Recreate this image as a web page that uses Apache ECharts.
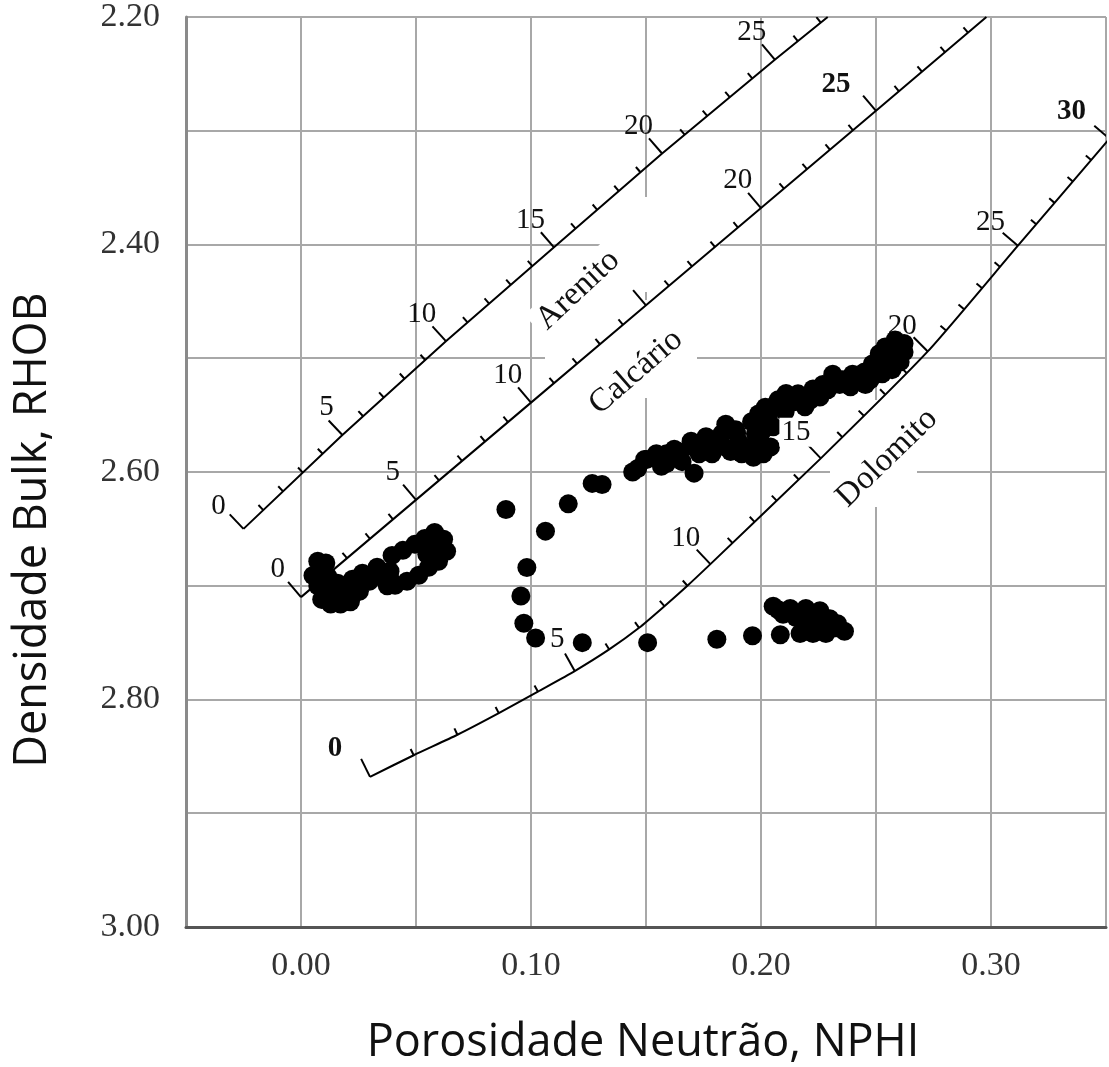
<!DOCTYPE html>
<html>
<head>
<meta charset="utf-8">
<script src="https://cdn.jsdelivr.net/npm/echarts@6/dist/echarts.min.js"></script>
<style>
html,body{margin:0;padding:0;background:#fff;}
#chart{width:1109px;height:1067px;}
</style>
</head>
<body>
<div id="chart"></div>
<script>
// ---- tick labels ----
const xTickLabels = ['0.00', '0.10', '0.20', '0.30'];
const yTickLabels = ['2.20', '2.40', '2.60', '2.80', '3.00'];

// ---- lithology lines (porosity p.u., NPHI, RHOB) ----
const sandPhi  = [0, 5, 10, 15, 20, 25, 27.3];
const sandNphi = [-0.025, 0.018, 0.063, 0.110, 0.157, 0.206, 0.229];
const sandRhob = [2.650, 2.5675, 2.485, 2.4025, 2.320, 2.2375, 2.200];
const sandMajor = [0, 5, 10, 15, 20, 25];
const sandLabels = ['0', '5', '10', '15', '20', '25'];

const limePhi  = [0, 5, 10, 15, 20, 25, 29.8];
const limeNphi = [0.000, 0.050, 0.100, 0.150, 0.200, 0.250, 0.298];
const limeRhob = [2.710, 2.6245, 2.539, 2.4535, 2.368, 2.2825, 2.200];
const limeMajor = [0, 5, 10, 15, 20, 25];
const limeLabels = ['0', '5', '10', '', '20', '25'];

const doloPhi  = [0, 1, 2, 3, 4, 5, 6, 7, 8, 9, 10, 15, 20, 25, 30];
const doloNphi = [0.030, 0.049, 0.068, 0.086, 0.103, 0.119, 0.134, 0.147, 0.158, 0.168, 0.178, 0.226, 0.2725, 0.3117, 0.3515];
const doloRhob = [2.868, 2.849, 2.831, 2.812, 2.793, 2.775, 2.756, 2.737, 2.718, 2.700, 2.681, 2.588, 2.494, 2.401, 2.307];
const doloMajor = [0, 5, 10, 15, 20, 25, 30];
const doloLabels = ['0', '5', '10', '15', '20', '25', '30'];

// ---- measured points ----
const ptsNphi = [
  // cluster near limestone 0
  0.0073, 0.0082, 0.0073, 0.0090, 0.0129, 0.0172, 0.0215, 0.0232, 0.0181, 0.0129, 0.0116, 0.0159,
  0.0202, 0.0108, 0.0052,
  0.0267, 0.0297, 0.0331, 0.0353, 0.0375, 0.0254, 0.0224,
  0.0396, 0.0443, 0.0495, 0.0538, 0.0581, 0.0620, 0.0409, 0.0461, 0.0512, 0.0555, 0.0598, 0.0633,
  0.0547, 0.0590, 0.0387, 0.0387,
  // arc
  0.0891, 0.1063, 0.1162, 0.1266, 0.1309, 0.1442, 0.0982, 0.0956, 0.0969, 0.1020, 0.1223, 0.1507,
  0.1808, 0.1963, 0.2084,
  // main band
  0.1464, 0.1558, 0.1567, 0.1636, 0.1696, 0.1761, 0.1709, 0.1847, 0.1868, 0.1894, 0.1954, 0.1967,
  0.1989, 0.2019, 0.2041, 0.2010, 0.2066, 0.2109, 0.2174, 0.2213, 0.2226, 0.2256, 0.2269, 0.2312,
  0.2342, 0.2368, 0.2398, 0.2441, 0.2454, 0.2484, 0.2514, 0.2514, 0.2540, 0.2570, 0.2583, 0.2600,
  0.2600, 0.2622, 0.2002, 0.1808, 0.1623, 0.1494,
  0.1502, 0.1545, 0.1589, 0.1589, 0.1645, 0.1657, 0.1700, 0.1731, 0.1774, 0.1787, 0.1830, 0.1838,
  0.1890, 0.1903, 0.1916, 0.1959, 0.1976, 0.1989, 0.2032, 0.2053, 0.2075, 0.2105, 0.2140, 0.2161,
  0.2191, 0.2234, 0.2290, 0.2320, 0.2355, 0.2389, 0.2419, 0.2450, 0.2475, 0.2506, 0.2527, 0.2549,
  0.2561, 0.2592, 0.2605, 0.2622,
  // lower right group
  0.2053, 0.2127, 0.2195, 0.2256, 0.2299, 0.2325, 0.2170, 0.2226, 0.2282, 0.2096, 0.2152, 0.2204,
  0.2260, 0.2363, 0.2075, 0.2238, 0.2333
];
const ptsRhob = [
  2.6785, 2.689, 2.700, 2.712, 2.716, 2.716, 2.714, 2.7066, 2.7048, 2.703, 2.6917, 2.6978,
  2.700, 2.680, 2.691,
  2.689, 2.696, 2.6838, 2.6925, 2.700, 2.7048, 2.6943,
  2.6733, 2.6689, 2.6636, 2.6584, 2.6531, 2.6592, 2.6995, 2.696, 2.6908, 2.6838, 2.6785, 2.6697,
  2.6724, 2.6662, 2.6873, 2.6943,
  2.633, 2.652, 2.628, 2.610, 2.611, 2.600, 2.684, 2.709, 2.733, 2.746, 2.750, 2.750,
  2.747, 2.744, 2.743,
  2.597, 2.587, 2.595, 2.588, 2.573, 2.569, 2.601, 2.558, 2.582, 2.566, 2.578, 2.587,
  2.549, 2.543, 2.578, 2.584, 2.540, 2.531, 2.538, 2.537, 2.527, 2.534, 2.523, 2.514,
  2.523, 2.521, 2.514, 2.516, 2.523, 2.505, 2.496, 2.510, 2.490, 2.510, 2.484, 2.501,
  2.494, 2.487, 2.565, 2.575, 2.580, 2.589,
  2.5891, 2.5839, 2.5839, 2.5926, 2.5821, 2.5909, 2.5777, 2.5839, 2.5733, 2.5839, 2.5663, 2.5777,
  2.5628, 2.5733, 2.5839, 2.5558, 2.5663, 2.5777, 2.5514, 2.5602, 2.5365, 2.5471, 2.5383, 2.5313,
  2.5427, 2.5339, 2.5278, 2.5208, 2.519, 2.5251, 2.5164, 2.512, 2.519, 2.505, 2.5137, 2.4988,
  2.490, 2.490, 2.5032, 2.4945,
  2.718, 2.720, 2.720, 2.722, 2.729, 2.737, 2.742, 2.742, 2.742, 2.725, 2.728, 2.731,
  2.733, 2.740, 2.7212, 2.7273, 2.7334
];

// ---- build series data from arrays ----
function lineData(nphi, rhob) { return nphi.map((v, i) => [v, rhob[i]]); }
function tickData(phi, nphi, rhob, majors) {
  const out = [];
  const last = phi[phi.length - 1];
  for (let p = 0; p <= Math.floor(last + 1e-9); p++) {
    let i = 0;
    while (i < phi.length - 2 && p > phi[i + 1]) i++;
    const t = (p - phi[i]) / (phi[i + 1] - phi[i]);
    out.push([
      nphi[i] + t * (nphi[i + 1] - nphi[i]),
      rhob[i] + t * (rhob[i + 1] - rhob[i]),
      nphi[i], rhob[i], nphi[i + 1], rhob[i + 1],
      majors.indexOf(p)
    ]);
  }
  return out;
}
const SERIF = '"Liberation Serif", "DejaVu Serif", serif';

function tickSeries(name, phi, nphi, rhob, majors, labels, opts) {
  const data = tickData(phi, nphi, rhob, majors);
  return {
    type: 'custom', name: name, z: opts.z || 2, clip: true, silent: true,
    data: data,
    renderItem: function (params, api) {
      const d = data[params.dataIndex];
      const p = api.coord([d[0], d[1]]);
      const a = api.coord([d[2], d[3]]);
      const b = api.coord([d[4], d[5]]);
      let dx = b[0] - a[0], dy = b[1] - a[1];
      const L = Math.hypot(dx, dy); dx /= L; dy /= L;
      const nx = dy, ny = -dx;           // perpendicular, upper-left side
      const mi = d[6];
      const major = mi >= 0;
      const children = [];
      const boxed = opts.boxed || [];
      const isBoxed = major && boxed.indexOf(mi) >= 0;
      if (!opts.labelsOnly) {
        const len = major ? 20 : 7;
        children.push({
          type: 'line',
          shape: { x1: p[0], y1: p[1], x2: p[0] + nx * len, y2: p[1] + ny * len },
          style: { stroke: '#000', lineWidth: 2 }
        });
      }
      if (major && labels[mi] && (opts.labelsOnly ? isBoxed : !isBoxed)) {
        const bold = (opts.bold || []).indexOf(mi) >= 0;
        const off = (opts.off && opts.off[mi]) || [nx * 36, ny * 36];
        children.push({
          type: 'text',
          x: p[0] + off[0], y: p[1] + off[1],
          style: {
            text: labels[mi],
            font: (bold ? 'bold ' : '') + '29px ' + SERIF,
            fill: '#111', align: 'center', verticalAlign: 'middle',
            backgroundColor: isBoxed ? '#fff' : null,
            padding: isBoxed ? [0, 2, 0, 2] : 0
          }
        });
      }
      return { type: 'group', children: children };
    }
  };
}

const chart = echarts.init(document.getElementById('chart'));
const lineStyleCurve = { color: '#000', width: 2 };
const erase = { fill: '#fff' };

chart.setOption({
  animation: false,
  backgroundColor: '#fff',
  grid: { left: 186, top: 14, right: -7, bottom: 140, containLabel: false },
  xAxis: {
    type: 'value', min: -0.05, max: 0.35, interval: 0.05,
    axisLine: { show: true, onZero: false, lineStyle: { color: '#555', width: 3 } },
    axisTick: { show: false },
    splitLine: { show: true, lineStyle: { color: '#a8a8a8', width: 2 } },
    axisLabel: {
      margin: 22, color: '#333', fontFamily: SERIF, fontSize: 34,
      formatter: v => { const s = v.toFixed(2); return xTickLabels.indexOf(s) >= 0 ? s : ''; }
    }
  },
  yAxis: {
    type: 'value', inverse: true, min: 2.2, max: 3.0, interval: 0.1,
    axisLine: { show: true, onZero: false, lineStyle: { color: '#8a8a8a', width: 3 } },
    axisTick: { show: false },
    splitLine: { show: true, lineStyle: { color: '#a8a8a8', width: 2 } },
    axisLabel: {
      margin: 26, color: '#333', fontFamily: SERIF, fontSize: 34,
      formatter: v => { const s = v.toFixed(2); return yTickLabels.indexOf(s) >= 0 ? s : ''; }
    }
  },
  series: [
    { type: 'line', name: 'Arenito', data: lineData(sandNphi, sandRhob), showSymbol: false, symbol: 'none',
      lineStyle: lineStyleCurve, z: 2, silent: true },
    { type: 'line', name: 'Calcário', data: lineData(limeNphi, limeRhob), showSymbol: false, symbol: 'none',
      lineStyle: lineStyleCurve, z: 2, silent: true },
    { type: 'line', name: 'Dolomito', data: lineData(doloNphi, doloRhob), showSymbol: false, symbol: 'none',
      smooth: 0.2, lineStyle: lineStyleCurve, z: 2, silent: true },
    tickSeries('tA', sandPhi, sandNphi, sandRhob, sandMajor, sandLabels,
      { off: { 0: [-25, -22], 1: [-16, -28] } }),
    tickSeries('tC', limePhi, limeNphi, limeRhob, limeMajor, limeLabels,
      { bold: [5], off: { 5: [-40, -26] } }),
    tickSeries('tD', doloPhi, doloNphi, doloRhob, doloMajor, doloLabels,
      { bold: [0, 6], boxed: [3], off: { 0: [-35, -28], 6: [-38, -27] } }),
    {
      type: 'scatter', name: 'Dados', z: 3, silent: true,
      data: ptsNphi.map((v, i) => [v, ptsRhob[i]]),
      symbol: 'circle', symbolSize: 19,
      itemStyle: { color: '#000', opacity: 1 }
    },
    tickSeries('tD15', doloPhi, doloNphi, doloRhob, doloMajor, doloLabels, { boxed: [3], labelsOnly: true, z: 5 })
  ],
  graphic: [
    // erased patches of the grid seen in the original figure
    { type: 'rect', z: 1, shape: { x: 600, y: 197, width: 120, height: 95 }, style: erase, silent: true },
    { type: 'rect', z: 1, shape: { x: 545, y: 300, width: 152, height: 98 }, style: erase, silent: true },
    { type: 'rect', z: 1, shape: { x: 830, y: 400, width: 87, height: 107 }, style: erase, silent: true },
    { type: 'text', x: 643, y: 1043, z: 10,
      style: { text: 'Porosidade Neutrão, NPHI', font: '45px "Open Sans", sans-serif', fill: '#111',
               align: 'center', verticalAlign: 'middle' } },
    { type: 'text', x: 33, y: 530, rotation: Math.PI / 2, z: 10,
      style: { text: 'Densidade Bulk, RHOB', font: '45px "Open Sans", sans-serif', fill: '#111',
               align: 'center', verticalAlign: 'middle' } },
    { type: 'text', x: 578, y: 290, rotation: 43 * Math.PI / 180, z: 10,
      style: { text: 'Arenito', font: '33px ' + SERIF, fill: '#111', align: 'center', verticalAlign: 'middle',
               backgroundColor: '#fff', padding: [2, 6, 2, 6] } },
    { type: 'text', x: 636, y: 372, rotation: 41 * Math.PI / 180, z: 10,
      style: { text: 'Calcário', font: '33px ' + SERIF, fill: '#111', align: 'center', verticalAlign: 'middle',
               backgroundColor: '#fff', padding: [2, 6, 2, 6] } },
    { type: 'text', x: 887, y: 458, rotation: 44 * Math.PI / 180, z: 10,
      style: { text: 'Dolomito', font: '33px ' + SERIF, fill: '#111', align: 'center', verticalAlign: 'middle',
               backgroundColor: '#fff', padding: [2, 6, 2, 6] } }
  ]
});
</script>
</body>
</html>
